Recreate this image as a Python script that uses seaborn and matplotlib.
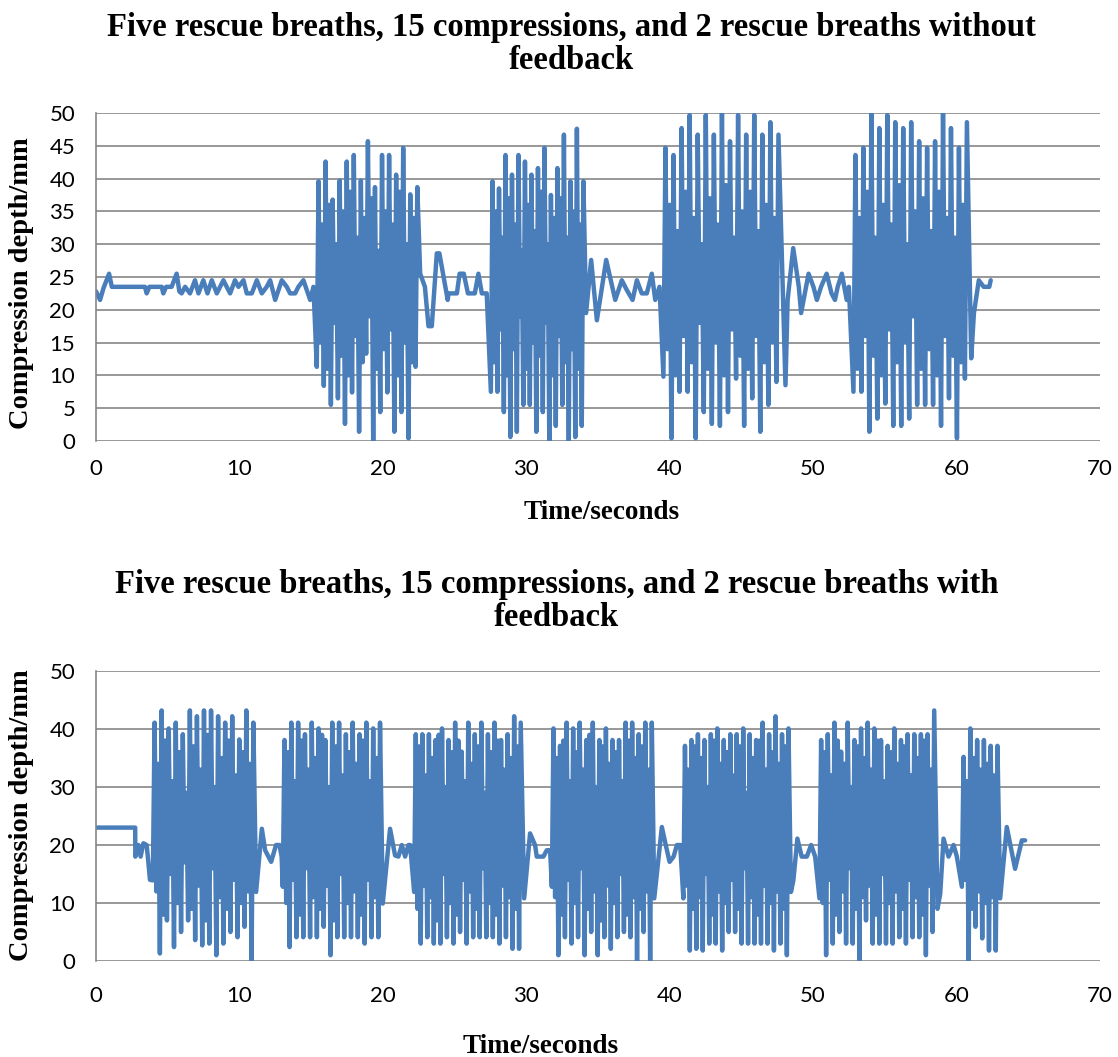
import numpy as np
import pandas as pd
import matplotlib.pyplot as plt
import seaborn as sns

# ---------------- top chart: without feedback ----------------
top_lead_t = [0, 0.28, 0.52, 0.91, 1.10, 3.41, 3.53, 3.72, 4.58, 4.69, 4.89, 5.27, 5.62,
              5.81, 5.97, 6.21, 6.55, 6.90, 7.14, 7.48, 7.77, 8.07, 8.42, 8.88, 9.11, 9.35,
              9.69, 9.93, 10.28, 10.51, 10.86, 11.21, 11.56, 11.90, 12.14, 12.49, 12.95,
              13.30, 13.53, 13.88, 14.11, 14.46, 14.93, 15.16]
top_lead_d = [22.8, 21.5, 23.3, 25.5, 23.5, 23.5, 22.5, 23.5, 23.5, 22.5, 23.5, 23.5, 25.5,
              22.8, 22.5, 23.5, 22.5, 24.5, 22.5, 24.5, 22.5, 24.5, 22.5, 24.5, 23.5, 22.5,
              24.5, 23.5, 24.5, 22.5, 22.5, 24.5, 22.5, 23.5, 24.5, 21.5, 24.5, 23.5, 22.5,
              22.5, 23.5, 24.5, 21.5, 23.5]

# first trough time, last peak time of each compression block
top_spans = [(15.39, 22.40), (27.53, 33.98), (39.56, 47.58), (52.81, 60.72)]
top_troughs = [
    [11.3, 8.4, 5.5, 6.5, 2.6, 7.4, 1.4, 13.3, 0, 4.4, 7.4, 1.4, 4.4, 0.4, 11.3],
    [7.5, 7.5, 4.4, 0.6, 1.4, 5.5, 5.5, 1.4, 4.4, 0, 2.3, 5.5, 0, 0.6, 2.3],
    [9.8, 0.4, 7.5, 7.5, 0.4, 4.4, 2.6, 2.3, 4.4, 9.5, 2.3, 6.5, 1.4, 5.5, 9.0],
    [7.5, 7.5, 1.4, 3.4, 5.7, 2.3, 2.3, 3.4, 5.5, 5.5, 5.5, 2.3, 6.5, 0.4, 9.5],
]
top_peaks = [
    [39.6, 42.6, 36.8, 39.7, 42.6, 43.6, 39.7, 45.7, 38.7, 43.6, 43.6, 40.6, 44.7, 37.6, 38.7],
    [39.6, 38.5, 43.6, 40.6, 43.6, 42.6, 40.6, 41.6, 44.7, 37.5, 41.6, 46.7, 39.6, 47.6, 39.6],
    [44.7, 43.6, 47.7, 49.7, 46.7, 49.7, 46.7, 50, 45.7, 49.7, 46.7, 49.7, 46.7, 48.6, 46.7],
    [43.6, 44.7, 50, 47.7, 49.7, 48.6, 47.7, 48.6, 45.7, 44.7, 45.7, 50, 47.7, 44.7, 48.6],
]
# rebound swing inside each compression (hidden inside the dense band)
top_inner_lo = [
    [15, 11, 18, 13, 10, 16, 12, 19, 11, 14, 17, 10, 15, 12],
    [12, 17, 10, 14, 19, 11, 15, 13, 18, 10, 16, 12, 14, 11],
    [14, 10, 16, 12, 18, 11, 15, 10, 17, 13, 11, 16, 12, 15],
    [11, 16, 13, 10, 17, 12, 15, 19, 11, 14, 10, 16, 13, 12],
]
top_inner_hi = [
    [33, 36, 30, 35, 38, 31, 34, 37, 29, 35, 33, 38, 30, 34],
    [35, 31, 37, 33, 29, 36, 32, 38, 30, 34, 37, 31, 35, 33],
    [36, 32, 38, 34, 30, 37, 33, 39, 31, 35, 38, 32, 36, 34],
    [34, 38, 31, 36, 33, 39, 30, 35, 37, 32, 38, 34, 31, 36],
]
top_tail_t = [
    [22.60, 22.93, 23.18, 23.41, 23.76, 23.94, 24.52, 24.57, 25.16, 25.35, 25.64, 25.83,
     25.93, 26.41, 26.66, 26.90, 27.24],
    [34.17, 34.52, 34.92, 35.57, 36.20, 36.66, 37.01, 37.41, 37.71, 38.05, 38.40, 38.75,
     38.99, 39.29],
    [48.07, 48.22, 48.61, 49.0, 49.16, 49.68, 50.02, 50.26, 50.55, 50.94, 51.28, 51.52,
     51.71, 52.0, 52.34, 52.49],
    [61.02, 61.21, 61.55, 61.89, 62.28, 62.38],
]
top_tail_d = [
    [25.5, 23.5, 17.5, 17.5, 28.6, 28.6, 21.5, 22.5, 22.5, 25.5, 25.5, 23.5, 22.5, 22.5,
     25.5, 22.5, 22.5],
    [19.5, 27.6, 18.4, 27.6, 21.5, 24.5, 23, 21.5, 24.5, 22.5, 22.5, 25.5, 21.5, 23.5],
    [8.5, 21.5, 29.4, 23.5, 19.5, 25.5, 23.5, 21.5, 23.5, 25.5, 22.5, 21.5, 23.5, 25.5,
     21.5, 23.5],
    [12.6, 19.5, 24.5, 23.5, 23.5, 24.5],
]

# ---------------- bottom chart: with feedback ----------------
bot_lead_t = [0, 2.73, 2.74, 2.95, 3.11, 3.30, 3.53, 3.65, 3.76]
bot_lead_d = [23, 23, 18, 20, 18, 20.3, 20, 17, 14]

bot_spans = [(3.96, 10.97), (13.02, 19.80), (22.18, 29.61), (31.78, 38.75),
             (40.95, 48.28), (50.44, 58.44), (60.37, 62.85)]
bot_troughs = [
    [13.9, 1.3, 7, 2.4, 5, 7, 3.6, 2.7, 3, 1, 3, 5, 4.1, 5.9, 0],
    [12.8, 2.4, 4.1, 4.1, 4.1, 4.1, 5.9, 1, 4.1, 4.1, 4.1, 4.1, 3, 4.1, 4.1],
    [11.9, 3, 4.1, 3, 3, 4.1, 3, 5, 3, 4.1, 4.1, 4.1, 4.1, 3, 4.1, 2.1, 2.1],
    [12.8, 1, 4.1, 3, 4.1, 1, 5, 1, 4.1, 2.1, 4.1, 5, 4.1, 0, 5, 0],
    [10.8, 1.8, 2.1, 1.8, 3, 3, 1.8, 5, 5, 3, 3, 3, 3, 3, 1.8, 3, 1],
    [10.8, 1, 3, 5, 3, 3, 0, 7, 3, 3, 3, 3, 4.1, 3, 4.1, 4.1, 1, 5],
    [12.8, 0, 5.9, 3.9, 1.8, 1.8],
]
bot_peaks = [
    [41.1, 43.2, 40.1, 41.1, 39.1, 43.2, 42.2, 43.2, 43.2, 42.2, 41.1, 42.2, 38.2, 43.2, 41.1],
    [38.1, 41.1, 41.1, 39.1, 41.1, 40.1, 38.1, 41.1, 41.1, 39.1, 41.1, 39.1, 41.1, 40.1, 41.1],
    [39.1, 39.1, 39.1, 38.1, 40.1, 38.1, 41.1, 36.1, 41.1, 39.1, 41.1, 39.1, 41.1, 38.1,
     39.1, 42.2, 41.1],
    [40.1, 37.1, 41.1, 40.1, 41.1, 38.1, 41.1, 38.1, 40.1, 38.1, 38.1, 41.1, 41.1, 39.1,
     41.1, 41.1],
    [37.1, 38.1, 39.1, 38.1, 39.1, 40.1, 38.1, 39.1, 39.1, 40.1, 39.1, 38.1, 41.1, 39.1,
     42.2, 39.1, 40.1],
    [38.1, 39.1, 41.1, 36.1, 41.1, 38.1, 40.1, 41.1, 40.1, 38.1, 37.1, 40.1, 38.1, 39.1,
     39.1, 39.1, 39.1, 43.2],
    [35.2, 40.1, 38.1, 38.1, 37.1, 37.1],
]
bot_inner_lo = [
    [12, 8, 15, 10, 17, 9, 13, 7, 16, 11, 9, 14, 10, 12],
    [10, 14, 8, 16, 11, 9, 13, 7, 15, 10, 12, 8, 14, 11],
    [9, 13, 11, 7, 15, 10, 8, 14, 12, 9, 16, 10, 8, 13, 11, 9],
    [11, 8, 14, 10, 16, 9, 12, 7, 13, 10, 15, 8, 11, 9, 12],
    [13, 9, 11, 15, 8, 12, 10, 14, 9, 16, 11, 8, 13, 10, 12, 9],
    [10, 14, 8, 12, 16, 9, 11, 13, 8, 15, 10, 12, 9, 14, 11, 8, 13],
    [14, 9, 12, 10, 11],
]
bot_inner_hi = [
    [34, 38, 31, 36, 29, 37, 33, 39, 30, 35, 38, 32, 36, 34],
    [36, 31, 38, 33, 35, 39, 30, 37, 32, 36, 34, 38, 31, 35],
    [37, 32, 35, 39, 30, 36, 38, 31, 34, 37, 29, 36, 38, 33, 35, 37],
    [35, 38, 31, 36, 33, 39, 30, 37, 34, 36, 31, 38, 35, 37, 33],
    [33, 37, 35, 30, 38, 34, 36, 32, 37, 29, 35, 38, 33, 36, 34, 37],
    [36, 32, 38, 34, 30, 37, 35, 33, 38, 31, 36, 34, 37, 32, 35, 38, 33],
    [31, 35, 33, 34, 32],
]
bot_tail_t = [
    [11.16, 11.56, 11.79, 12.21, 12.55, 12.79, 12.94],
    [19.99, 20.50, 20.85, 21.08, 21.32, 21.55, 21.78, 21.90],
    [29.85, 30.26, 30.61, 30.73, 31.19, 31.43, 31.66],
    [38.92, 39.45, 39.75, 39.99, 40.27, 40.50, 40.73],
    [48.45, 48.62, 48.90, 49.20, 49.56, 49.86, 50.14],
    [58.67, 58.86, 59.09, 59.44, 59.79, 60.02],
    [63.04, 63.50, 64.08, 64.55, 64.78],
]
bot_tail_d = [
    [11.9, 22.8, 19.1, 17.1, 20, 20, 18],
    [9.9, 22.8, 18.2, 18, 20, 18, 20, 20],
    [10.8, 22, 20, 18, 18, 19.1, 19.1],
    [10.8, 23.1, 19.7, 17.1, 18, 20, 20],
    [11.9, 13.9, 21.1, 18, 18, 20, 18],
    [9, 11.6, 21.1, 18, 20, 18],
    [10.8, 23.1, 15.9, 20.8, 20.8],
]

title_top = "Five rescue breaths, 15 compressions, and 2 rescue breaths without\nfeedback"
title_bot = "Five rescue breaths, 15 compressions, and 2 rescue breaths with\nfeedback"


def build(lead_t, lead_d, spans, troughs, peaks, lo, hi, tail_t, tail_d):
    t, d = list(lead_t), list(lead_d)
    for (t0, t1), tr, pk, blo, bhi, tt, td in zip(spans, troughs, peaks, lo, hi,
                                                   tail_t, tail_d):
        seg = []
        for i, (a, b) in enumerate(zip(tr, pk)):
            seg += [a, b]
            if i < len(pk) - 1:  # the block ends on its last peak
                seg += [blo[i], bhi[i]]
        t += list(np.linspace(t0, t1, len(seg)))
        d += seg
        t += tt
        d += td
    return pd.DataFrame({"Time": t, "Depth": d})


df_top = build(top_lead_t, top_lead_d, top_spans, top_troughs, top_peaks,
               top_inner_lo, top_inner_hi, top_tail_t, top_tail_d)
df_bot = build(bot_lead_t, bot_lead_d, bot_spans, bot_troughs, bot_peaks,
               bot_inner_lo, bot_inner_hi, bot_tail_t, bot_tail_d)

sns.set_style("white")
plt.rcParams.update({"text.color": "black", "axes.labelcolor": "black",
                     "xtick.color": "black", "ytick.color": "black"})
serif = "Liberation Serif"
sans = "Lato"
grey = "#868686"
blue = "#4A7EBB"

fig = plt.figure(figsize=(11.18, 10.57), dpi=100)
ax1 = fig.add_axes([0.0859, 0.5828, 0.898, 0.3103])
ax2 = fig.add_axes([0.0859, 0.0908, 0.898, 0.2744])

for ax, df, ystep, xpad, xl_pos, yl_pos in [
    (ax1, df_top, 5, 13, (0.504, -0.18), (-0.062, 0.48)),
    (ax2, df_bot, 10, 18, (0.443, -0.25), (-0.062, 0.503)),
]:
    sns.lineplot(data=df, x="Time", y="Depth", ax=ax, sort=False, estimator=None,
                 color=blue, linewidth=3.2)
    ax.set_xlim(0, 70)
    ax.set_ylim(0, 50)
    ax.set_xticks(range(0, 71, 10))
    ax.set_yticks(range(0, 51, ystep))
    ax.grid(axis="y", color=grey, linewidth=1.2)
    ax.grid(axis="x", visible=False)
    ax.set_axisbelow(True)
    for s in ["top", "right", "bottom"]:
        ax.spines[s].set_visible(False)
    ax.spines["left"].set_color(grey)
    ax.spines["left"].set_linewidth(1.2)
    ax.tick_params(axis="x", length=0, pad=xpad, labelsize=16, colors="black")
    ax.tick_params(axis="y", length=0, pad=15, labelsize=16, colors="black")
    for lab in ax.get_xticklabels() + ax.get_yticklabels():
        lab.set_fontfamily(sans)
    ax.set_xlabel("Time/seconds", fontfamily=serif, fontweight="bold", fontsize=19.5,
                  color="black")
    ax.set_ylabel("Compression depth/mm", fontfamily=serif, fontweight="bold",
                  fontsize=20.5, color="black")
    ax.xaxis.set_label_coords(*xl_pos)
    ax.yaxis.set_label_coords(*yl_pos)

fig.text(0.511, 0.989, title_top, ha="center", va="top", fontfamily=serif,
         fontweight="bold", fontsize=23.5, linespacing=1.1, color="black")
fig.text(0.498, 0.462, title_bot, ha="center", va="top", fontfamily=serif,
         fontweight="bold", fontsize=23.5, linespacing=1.1, color="black")

fig.savefig("out.png", dpi=100)
